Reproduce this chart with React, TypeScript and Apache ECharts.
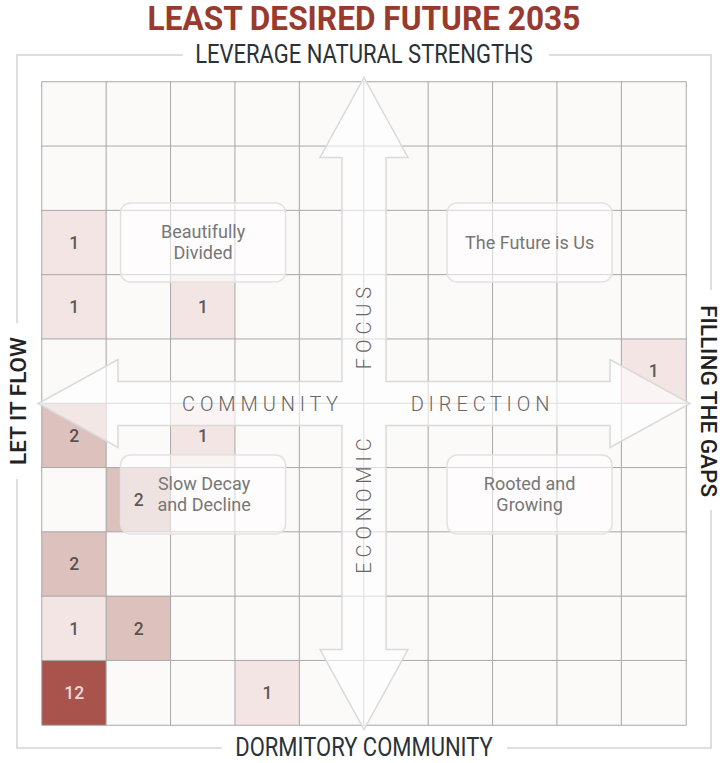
import React, { useEffect, useRef } from "react";
import * as echarts from "echarts";

const colCats = ["0", "1", "2", "3", "4", "5", "6", "7", "8", "9"];
const rowCats = ["0", "1", "2", "3", "4", "5", "6", "7", "8", "9"];
// counts per row (top row first), columns left to right
const row0 = [0, 0, 0, 0, 0, 0, 0, 0, 0, 0];
const row1 = [0, 0, 0, 0, 0, 0, 0, 0, 0, 0];
const row2 = [1, 0, 0, 0, 0, 0, 0, 0, 0, 0];
const row3 = [1, 0, 1, 0, 0, 0, 0, 0, 0, 0];
const row4 = [0, 0, 0, 0, 0, 0, 0, 0, 0, 1];
const row5 = [2, 0, 1, 0, 0, 0, 0, 0, 0, 0];
const row6 = [0, 2, 0, 0, 0, 0, 0, 0, 0, 0];
const row7 = [2, 0, 0, 0, 0, 0, 0, 0, 0, 0];
const row8 = [1, 2, 0, 0, 0, 0, 0, 0, 0, 0];
const row9 = [12, 0, 0, 1, 0, 0, 0, 0, 0, 0];
const rows = [row0, row1, row2, row3, row4, row5, row6, row7, row8, row9];

const title = "LEAST DESIRED FUTURE 2035";
const topLabel = "LEVERAGE NATURAL STRENGTHS";
const bottomLabel = "DORMITORY COMMUNITY";
const leftLabel = "LET IT FLOW";
const rightLabel = "FILLING THE GAPS";
const quadrantNames = ["Beautifully\nDivided", "The Future is Us", "Slow Decay\nand Decline", "Rooted and\nGrowing"];

export default function App() {
  const ref = useRef<HTMLDivElement>(null);
  useEffect(() => {
    document.body.style.margin = "0";
    const chart = echarts.init(ref.current!, null, { renderer: "svg" });

    const GL = 42, GT = 82, GW = 644, GH = 643;
    const cw = GW / 10, ch = GH / 10;
    const cx = GL + GW / 2, cy = GT + GH / 2;

    const data: any[] = [];
    const labelData: any[] = [];
    rows.forEach((r, ri) => {
      r.forEach((v, ci) => {
        data.push({ value: [ci, ri, v] });
        if (v > 0) {
          const item: any = { value: [ci, ri, v] };
          if (v >= 10) item.label = { color: "#ffffff" };
          labelData.push(item);
        }
      });
    });

    // arrow geometry
    const tipH = 326, headL = 80, headW = 44, shaftW = 22;
    const arrow = [
      [cx, cy - tipH],
      [cx + headW, cy - tipH + headL],
      [cx + shaftW, cy - tipH + headL],
      [cx + shaftW, cy - shaftW],
      [cx + tipH - headL, cy - shaftW],
      [cx + tipH - headL, cy - headW],
      [cx + tipH, cy],
      [cx + tipH - headL, cy + headW],
      [cx + tipH - headL, cy + shaftW],
      [cx + shaftW, cy + shaftW],
      [cx + shaftW, cy + tipH - headL],
      [cx + headW, cy + tipH - headL],
      [cx, cy + tipH],
      [cx - headW, cy + tipH - headL],
      [cx - shaftW, cy + tipH - headL],
      [cx - shaftW, cy + shaftW],
      [cx - tipH + headL, cy + shaftW],
      [cx - tipH + headL, cy + headW],
      [cx - tipH, cy],
      [cx - tipH + headL, cy - headW],
      [cx - tipH + headL, cy - shaftW],
      [cx - shaftW, cy - shaftW],
      [cx - shaftW, cy - tipH + headL],
      [cx - headW, cy - tipH + headL],
    ];

    const frameStyle = { stroke: "#dedede", lineWidth: 2, fill: "none" };
    const FL = 17, FR = 711, FT = 55, FB = 748;

    const boxes = [
      { x0: GL + 1.22 * cw, y0: GT + 1.88 * ch },
      { x0: GL + 6.29 * cw, y0: GT + 1.88 * ch },
      { x0: GL + 1.22 * cw, y0: GT + 5.8 * ch },
      { x0: GL + 6.29 * cw, y0: GT + 5.8 * ch },
    ];
    const bw = 165, bh = 79;

    const graphics: any[] = [
      { type: "polyline", z: 5, shape: { points: [[183, FT], [FL, FT], [FL, 323]] }, style: frameStyle },
      { type: "polyline", z: 5, shape: { points: [[FL, 479], [FL, FB], [222, FB]] }, style: frameStyle },
      { type: "polyline", z: 5, shape: { points: [[507, FB], [FR, FB], [FR, 510]] }, style: frameStyle },
      { type: "polyline", z: 5, shape: { points: [[FR, 290], [FR, FT], [549, FT]] }, style: frameStyle },
      {
        type: "text", z: 5, x: 364, y: 19, scaleX: 0.93,
        style: { text: title, x: 0, y: 0, textAlign: "center", textVerticalAlign: "middle", fill: "#993a2f", font: "bold 34px Roboto" },
      },
      {
        type: "text", z: 5, x: 364, y: 55, scaleX: 0.88,
        style: { text: topLabel, x: 0, y: 0, textAlign: "center", textVerticalAlign: "middle", fill: "#2b3237", font: "25px Roboto" },
      },
      {
        type: "text", z: 5, x: 364, y: 748, scaleX: 0.88,
        style: { text: bottomLabel, x: 0, y: 0, textAlign: "center", textVerticalAlign: "middle", fill: "#2b3237", font: "25px Roboto" },
      },
      {
        type: "text", z: 5, x: 18, y: 401, rotation: Math.PI / 2,
        style: { text: leftLabel, x: 0, y: 0, textAlign: "center", textVerticalAlign: "middle", fill: "#222", font: "500 22.5px Roboto" },
      },
      {
        type: "text", z: 5, x: 709, y: 401, rotation: -Math.PI / 2,
        style: { text: rightLabel, x: 0, y: 0, textAlign: "center", textVerticalAlign: "middle", fill: "#222", font: "500 22.5px Roboto" },
      },
      {
        type: "polygon", z: 10, shape: { points: arrow },
        style: { fill: "rgba(255,255,255,0.62)", stroke: "#d9d9d9", lineWidth: 1.5 },
      },
      {
        type: "text", z: 11, x: 260, y: cy,
        style: { text: "C O M M U N I T Y", x: 0, y: 0, textAlign: "center", textVerticalAlign: "middle", fill: "#666", font: "300 20px Roboto" },
      },
      {
        type: "text", z: 11, x: 480, y: cy,
        style: { text: "D I R E C T I O N", x: 0, y: 0, textAlign: "center", textVerticalAlign: "middle", fill: "#666", font: "300 20px Roboto" },
      },
      {
        type: "text", z: 11, x: cx, y: 328, rotation: Math.PI / 2,
        style: { text: "F O C U S", x: 0, y: 0, textAlign: "center", textVerticalAlign: "middle", fill: "#666", font: "300 20px Roboto" },
      },
      {
        type: "text", z: 11, x: cx, y: 506, rotation: Math.PI / 2,
        style: { text: "E C O N O M I C", x: 0, y: 0, textAlign: "center", textVerticalAlign: "middle", fill: "#666", font: "300 20px Roboto" },
      },
    ];

    boxes.forEach((b, i) => {
      graphics.push({
        type: "rect", z: 12,
        shape: { x: b.x0, y: b.y0, width: bw, height: bh, r: 10 },
        style: { fill: "rgba(255,255,255,0.55)", stroke: "#e2e2e2", lineWidth: 1.5 },
      });
      graphics.push({
        type: "text", z: 13, x: b.x0 + bw / 2 + (i === 2 ? 1 : 0), y: b.y0 + bh / 2,
        style: { text: quadrantNames[i], x: 0, y: 0, textAlign: "center", textVerticalAlign: "middle", fill: "#777777", font: "18px Roboto", lineHeight: 21 },
      });
    });

    chart.setOption({
      animation: false,
      grid: { left: GL, top: GT, width: GW, height: GH },
      xAxis: {
        type: "category", data: colCats,
        axisLine: { show: false }, axisTick: { show: false }, axisLabel: { show: false }, splitLine: { show: false },
      },
      yAxis: {
        type: "category", data: rowCats, inverse: true,
        axisLine: { show: false }, axisTick: { show: false }, axisLabel: { show: false }, splitLine: { show: false },
      },
      visualMap: {
        type: "piecewise", show: false, dimension: 2, seriesIndex: 0,
        pieces: [
          { value: 0, color: "#fcf9f9" },
          { value: 1, color: "#f2e5e3" },
          { value: 2, color: "#dcc1bc" },
          { min: 3, color: "#a8544d" },
        ],
      },
      series: [
        {
          type: "heatmap",
          data,
          z: 2,
          itemStyle: { borderColor: "#a9a9a9", borderWidth: 1 },
          label: { show: false },
          emphasis: { disabled: true },
        },
        {
          type: "scatter",
          data: labelData,
          z: 20,
          zlevel: 0,
          symbolSize: 0,
          silent: true,
          label: {
            show: true, position: "inside", fontSize: 17.5, color: "#333", fontFamily: "Roboto", fontWeight: 500,
            formatter: (p: any) => String(p.value[2]),
          },
          emphasis: { disabled: true },
        },
      ],
      graphic: graphics,
    });
    return () => chart.dispose();
  }, []);
  return <div ref={ref} style={{ width: 723, height: 763 }} />;
}
